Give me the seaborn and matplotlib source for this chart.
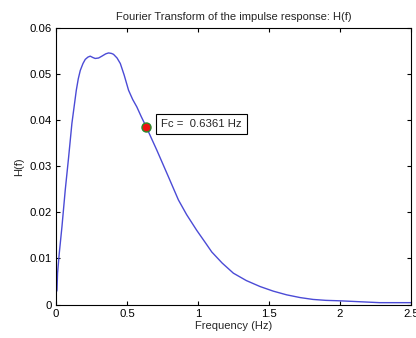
import matplotlib
matplotlib.use("Agg")
import matplotlib.pyplot as plt
import seaborn as sns
import pandas as pd

freq = [0.0, 0.007, 0.011, 0.023, 0.042, 0.065, 0.089, 0.112, 0.143, 0.157, 0.171, 0.19, 0.206,
        0.225, 0.241, 0.26, 0.276, 0.3, 0.323, 0.35, 0.37, 0.39, 0.405, 0.43, 0.453, 0.48,
        0.511, 0.54, 0.569, 0.60, 0.6361, 0.71, 0.792, 0.862, 0.92, 0.991, 1.05, 1.097, 1.17,
        1.249, 1.34, 1.437, 1.53, 1.624, 1.72, 1.81, 1.9, 2.0, 2.14, 2.28, 2.5]
hval = [0.0025, 0.0031, 0.0068, 0.0111, 0.0169, 0.0248, 0.032, 0.0393, 0.0465, 0.049, 0.0508, 0.0523, 0.0532,
        0.0537, 0.0539, 0.0536, 0.0534, 0.0535, 0.0539, 0.0544, 0.0546, 0.0545, 0.0543, 0.0535, 0.0523, 0.0498,
        0.0465, 0.0445, 0.0429, 0.0408, 0.0385, 0.0335, 0.0277, 0.0227, 0.0195, 0.0161, 0.0135, 0.0114, 0.009,
        0.0068, 0.0052, 0.0039, 0.0029, 0.0021, 0.0015, 0.0011, 0.0009, 0.0008, 0.0006, 0.0004, 0.0004]
fc = 0.6361
hc = 0.0385
xticks = [0, 0.5, 1, 1.5, 2, 2.5]
yticks = [0, 0.01, 0.02, 0.03, 0.04, 0.05, 0.06]

sns.set_style("white")
plt.rcParams['font.family'] = ['Liberation Sans', 'DejaVu Sans']

df = pd.DataFrame({"Frequency": freq, "H": hval})
fig = plt.figure(figsize=(4.16, 3.38), dpi=100)
ax = fig.add_axes([0.1346, 0.0991, 0.988 - 0.1346, 0.917 - 0.0991])
sns.lineplot(data=df, x="Frequency", y="H", ax=ax, color="#4b4bd6", linewidth=1.0)
ax.plot([fc], [hc], 'o', markerfacecolor='#ee1111', markeredgecolor='#2a8a2a',
        markersize=6.5, markeredgewidth=1.0)
ax.text(fc + 0.105, hc + 0.0006, "Fc =  0.6361 Hz", fontsize=8.2, va='center', ha='left',
        bbox=dict(boxstyle='square,pad=0.45', facecolor='white', edgecolor='black', linewidth=0.8))

ax.set_xlim(0, 2.5)
ax.set_ylim(0, 0.06)
ax.set_xticks(xticks)
ax.set_xticklabels(["0", "0.5", "1", "1.5", "2", "2.5"])
ax.set_yticks(yticks)
ax.set_yticklabels(["0", "0.01", "0.02", "0.03", "0.04", "0.05", "0.06"])
ax.tick_params(direction='in', length=3, width=0.8, labelsize=8.2, top=True, right=True,
               bottom=True, left=True, colors='black', pad=3)
for s in ax.spines.values():
    s.set_color('black')
    s.set_linewidth(0.8)
ax.set_xlabel("Frequency (Hz)", fontsize=8, labelpad=2)
ax.set_ylabel("H(f)", fontsize=8, labelpad=4)
ax.set_title("Fourier Transform of the impulse response: H(f)", fontsize=8, pad=6)
fig.savefig("out.png", dpi=100)
